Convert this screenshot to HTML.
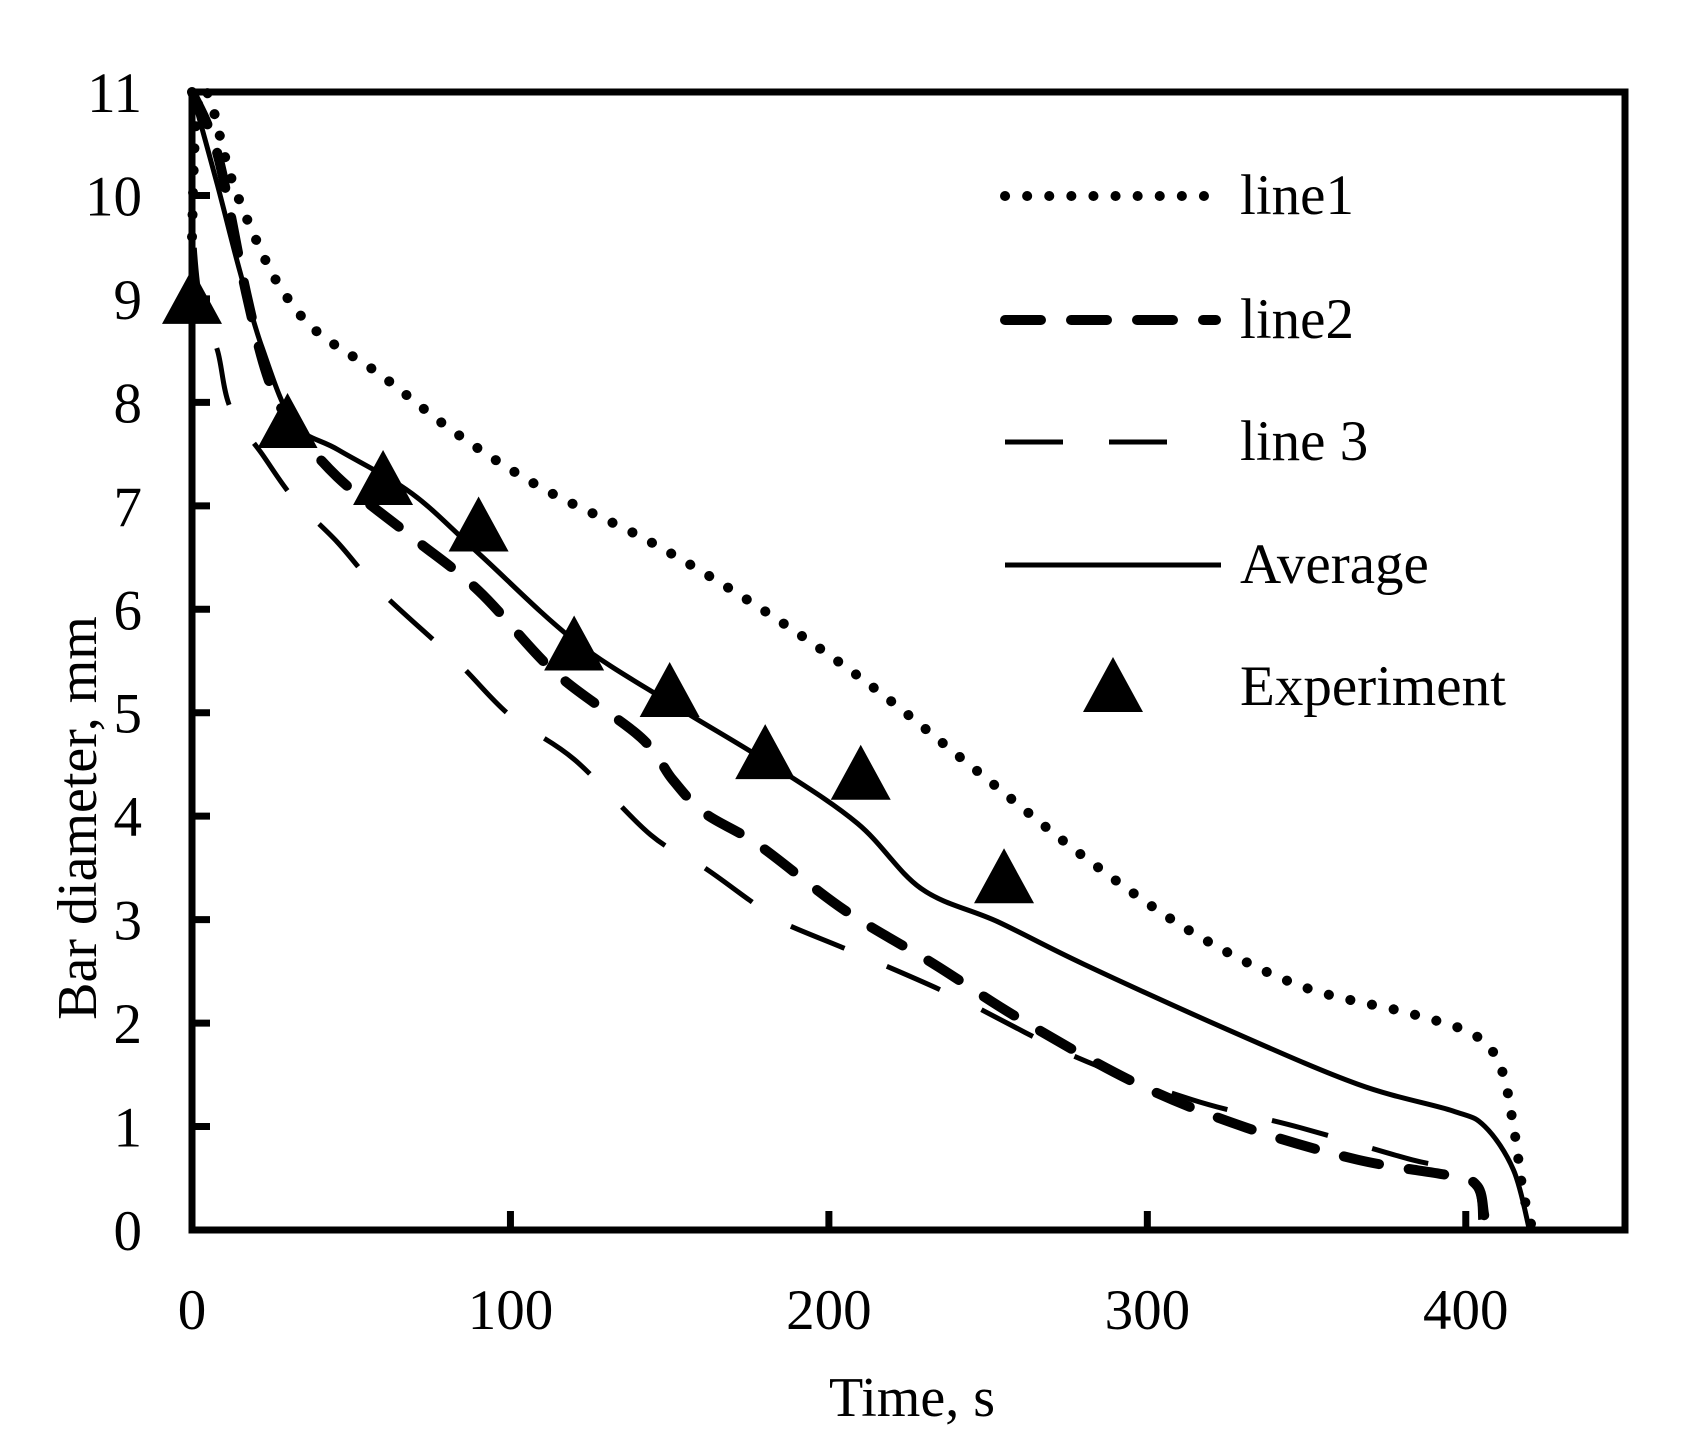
<!DOCTYPE html>
<html><head><meta charset="utf-8"><style>
html,body{margin:0;padding:0;background:#fff}
svg{display:block}
text{font-family:"Liberation Serif",serif;fill:#000}
</style></head><body>
<svg id="chart" width="1701" height="1449" viewBox="0 0 1701 1449" xmlns="http://www.w3.org/2000/svg">
<g id="series"></g>
<rect x="192" y="92" width="1433" height="1138" fill="none" stroke="#000" stroke-width="7"/>
<g id="ticks"></g>
<text x="912" y="1416" font-size="56" text-anchor="middle">Time, s</text>
<text x="0" y="0" font-size="56" text-anchor="middle" transform="translate(96,818) rotate(-90)">Bar diameter, mm</text>
<g id="legend"></g>
</svg>
<script>
const xTicks=[0,100,200,300,400];
const yTicks=[0,1,2,3,4,5,6,7,8,9,10,11];
const line1T=[0,1,3,6,12,20,28,39,59,83,110,144,178,212,246,280,314,348,383,403,411,415,418,421];
const line1V=[9.6,10.6,11,10.9,10.2,9.58,9.1,8.69,8.27,7.7,7.17,6.65,6.02,5.29,4.45,3.61,2.88,2.36,2.09,1.88,1.57,1.0,0.37,0];
const line2T=[0,8,17,23.5,30,45.6,69,90,114,141,151,161,178,205,233,260,297,331,366,396,403.7,405.7,406];
const line2V=[11,10.4,9.06,8.27,7.85,7.28,6.7,6.18,5.39,4.76,4.35,4.03,3.72,3.09,2.57,2.04,1.41,0.99,0.68,0.52,0.42,0.16,0.05];
const line3T=[0,0.5,3,8,12,22,32,45.6,59,83,100,120,144,161,175,185,209,240,277,314,348,383,398,403.7,404.7];
const line3V=[10.5,9.6,8.9,8.5,7.95,7.5,7.07,6.65,6.18,5.5,4.97,4.55,3.82,3.5,3.19,2.98,2.67,2.25,1.68,1.26,0.99,0.68,0.58,0.37,0.1];
const avgT=[0,8,15,22,32,46,69,90,120,151,182,209,229,253,280,325,366,396,406,415,420];
const avgV=[11,10.1,9.27,8.53,7.8,7.54,7.12,6.54,5.7,5.08,4.5,3.93,3.3,2.98,2.57,1.94,1.41,1.15,1.0,0.58,0];
const expT=[0,30,60,90,120,150,180,210,255];
const expV=[9,7.8,7.25,6.8,5.65,5.2,4.6,4.4,3.4];
const legendLabels=["line1","line2","line 3","Average","Experiment"];

const NS="http://www.w3.org/2000/svg";
const X0=192,X1=1625,Y0=1230,Y1=92,XMAX=450,YMAX=11;
const sx=t=>X0+(X1-X0)*t/XMAX;
const sy=v=>Y0-(Y0-Y1)*v/YMAX;
function mk(tag,attrs,parent){const e=document.createElementNS(NS,tag);for(const k in attrs)e.setAttribute(k,attrs[k]);parent.appendChild(e);return e;}
function smoothPath(P){
 let d='M'+P[0][0].toFixed(1)+','+P[0][1].toFixed(1);
 for(let i=0;i<P.length-1;i++){
  const p0=P[Math.max(0,i-1)],p1=P[i],p2=P[i+1],p3=P[Math.min(P.length-1,i+2)];
  const c1=[p1[0]+(p2[0]-p0[0])/6,p1[1]+(p2[1]-p0[1])/6];
  const c2=[p2[0]-(p3[0]-p1[0])/6,p2[1]-(p3[1]-p1[1])/6];
  d+=` C${c1[0].toFixed(1)},${c1[1].toFixed(1)} ${c2[0].toFixed(1)},${c2[1].toFixed(1)} ${p2[0].toFixed(1)},${p2[1].toFixed(1)}`;
 }
 return d;
}
const series=document.getElementById('series');
const styles=[
 {name:'line1',sw:10,dash:'0.1 22',cap:'round'},
 {name:'line2',sw:10,dash:'36 30',cap:'round'},
 {name:'line3',sw:5,dash:'58 46',cap:'butt'},
 {name:'average',sw:5,dash:'none',cap:'butt'}];
const data=[[line1T,line1V],[line2T,line2V],[line3T,line3V],[avgT,avgV]];
data.forEach((d,i)=>{
 const P=d[0].map((t,j)=>[sx(t),sy(d[1][j])]);
 const p=mk('path',{d:smoothPath(P),fill:'none',stroke:'#000','stroke-width':styles[i].sw,'stroke-dasharray':styles[i].dash,'stroke-linecap':styles[i].cap,'stroke-linejoin':'round'},series);
 
 
});
function tri(cx,cy,parent){
 return mk('polygon',{points:`${cx},${cy-30} ${cx-30},${cy+25} ${cx+30},${cy+25}`,fill:'#000'},parent);
}
expT.forEach((t,j)=>{
 const m=tri(sx(t),sy(expV[j]),series);
 
 
});
const ticks=document.getElementById('ticks');
xTicks.forEach(t=>{
 const l=mk('line',{x1:sx(t),x2:sx(t),y1:Y0,y2:Y0-19,stroke:'#000','stroke-width':7},ticks);
 
 
 const tx=mk('text',{x:sx(t),y:1329,'font-size':57,'text-anchor':'middle'},ticks);
 tx.textContent=t;
 
 
});
yTicks.forEach(v=>{
 const l=mk('line',{x1:X0,x2:X0+18,y1:sy(v),y2:sy(v),stroke:'#000','stroke-width':7},ticks);
 
 
 const tx=mk('text',{x:142,y:sy(v)+20,'font-size':57,'text-anchor':'end'},ticks);
 tx.textContent=v;
 
 
});
const legend=document.getElementById('legend');
const ly=[196,320,442,565,687];
const legendEnd=[1216,1216,1190,1221];
legendLabels.forEach((lab,i)=>{
 const g=mk('g',{},legend);
 
 
 if(i<4){
  mk('line',{x1:1005,x2:legendEnd[i],y1:ly[i],y2:ly[i],stroke:'#000','stroke-width':styles[i].sw,'stroke-dasharray':styles[i].dash,'stroke-linecap':styles[i].cap},g);
 } else {
  tri(1113,ly[i],g);
 }
 const tx=mk('text',{x:1240,y:ly[i]+18,'font-size':57},g);
 tx.textContent=lab;
});
</script>
</body></html>
